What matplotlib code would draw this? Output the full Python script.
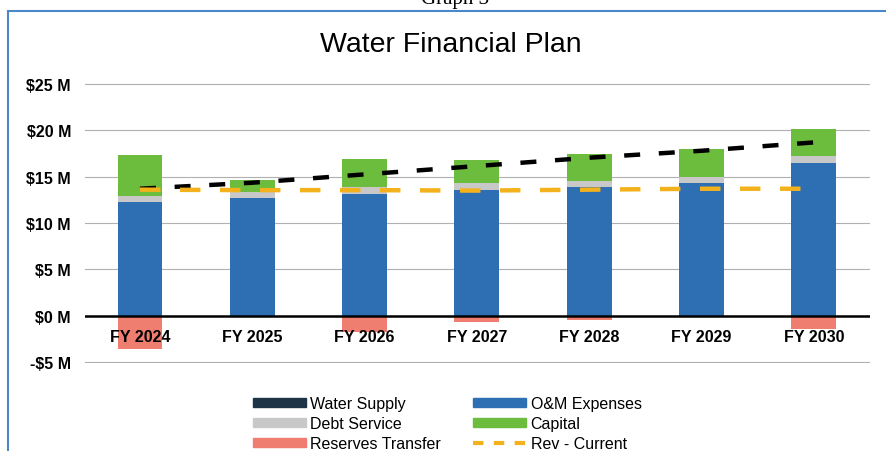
import matplotlib.pyplot as plt
import matplotlib.patches as mpatches
from matplotlib.lines import Line2D
import numpy as np

plt.rcParams['font.family'] = ['Liberation Sans', 'DejaVu Sans']

# valores (milhões de $)
anos = ['FY 2024', 'FY 2025', 'FY 2026', 'FY 2027', 'FY 2028', 'FY 2029', 'FY 2030']
water_supply = [0, 0, 0, 0, 0, 0, 0]
om_expenses = [12.3, 12.65, 13.1, 13.6, 13.85, 14.3, 16.45]
debt_service = [0.65, 0.75, 0.8, 0.7, 0.7, 0.7, 0.75]
capital = [4.4, 1.2, 3.05, 2.5, 2.9, 3.0, 3.0]
reserves_transfer = [-3.6, -0.15, -1.8, -0.65, -0.45, 0, -1.45]
rev_current = [13.6, 13.55, 13.55, 13.5, 13.6, 13.7, 13.7]
rev_proposta = [13.7, 14.35, 15.25, 16.15, 17.05, 17.8, 18.7]
yticks = [-5, 0, 5, 10, 15, 20, 25]

c_ws = '#1d3446'
c_om = '#2e6fb4'
c_debt = '#c8c8c8'
c_cap = '#6cbd3d'
c_res = '#ef7e70'
c_rev = '#f3b21c'

fig = plt.figure(figsize=(8.87, 4.52), dpi=100)
# eixo um pouco maior que -5..25 para a linha de grade de -5 não ser cortada
ax = fig.add_axes([0.0958, 0.1969 - 0.003, 0.885, 0.615 + 0.006])

x = np.arange(len(anos))
w = 0.4
base = np.array(water_supply, dtype=float)
ax.bar(x, water_supply, w, color=c_ws, zorder=2)
ax.bar(x, om_expenses, w, bottom=base, color=c_om, zorder=2)
base = base + om_expenses
ax.bar(x, debt_service, w, bottom=base, color=c_debt, zorder=2)
base = base + debt_service
ax.bar(x, capital, w, bottom=base, color=c_cap, zorder=2)
ax.bar(x, reserves_transfer, w, color=c_res, zorder=2)

ax.plot(x, rev_proposta, color='black', lw=3.2, dashes=(3.6, 4.2), zorder=3)
ax.plot(x, rev_current, color=c_rev, lw=3.2, dashes=(4.6, 4.4), zorder=3)

ax.set_xlim(-0.49, 6.5)
ax.set_ylim(-5.15, 25.15)
ax.set_yticks(yticks)
ax.set_yticklabels([f'-${-v} M' if v < 0 else f'${v} M' for v in yticks],
                   fontsize=11.5, fontweight='bold')
ax.tick_params(axis='y', length=0, pad=10)
ax.set_xticks([])
ax.grid(axis='y', color='#b0b0b0', lw=0.8, zorder=0)
ax.axhline(0, color='black', lw=1.8, zorder=4)
for s in ax.spines.values():
    s.set_visible(False)

# rótulos do eixo x logo abaixo do zero
for i, a in enumerate(anos):
    ax.annotate(a, (i, 0), xytext=(0, -21), textcoords='offset pixels',
                ha='center', va='center', fontsize=11.5, fontweight='bold', zorder=5)

fig.text(0.508, 1 - 45 / 452, 'Water Financial Plan',
         ha='center', va='center', fontsize=20.5)
fig.text(0.513, 1 - 4 / 452, 'Graph 3', ha='center', va='baseline',
         fontsize=15, family='Liberation Serif')

# moldura azul do gráfico
fig.add_artist(mpatches.Rectangle((8 / 887, -0.1), 1.2, 1.1 - 12 / 452,
                                  transform=fig.transFigure, fill=False,
                                  edgecolor='#4a88c8', lw=1.5, clip_on=False))

handles = [mpatches.Patch(color=c_ws, label='Water Supply'),
           mpatches.Patch(color=c_debt, label='Debt Service'),
           mpatches.Patch(color=c_res, label='Reserves Transfer'),
           mpatches.Patch(color=c_om, label='O&M Expenses'),
           mpatches.Patch(color=c_cap, label='Capital'),
           Line2D([0], [0], color=c_rev, lw=3, dashes=(2.5, 2.5), label='Rev - Current')]
fig.legend(handles=handles, ncol=2, loc='upper left',
           bbox_to_anchor=(245 / 887, 1 - 389 / 452), frameon=False,
           fontsize=11.5, handlelength=3.3, handleheight=0.5, handletextpad=0.3,
           labelspacing=0.32, columnspacing=2.0, borderpad=0)

fig.savefig('out.png', dpi=100)
